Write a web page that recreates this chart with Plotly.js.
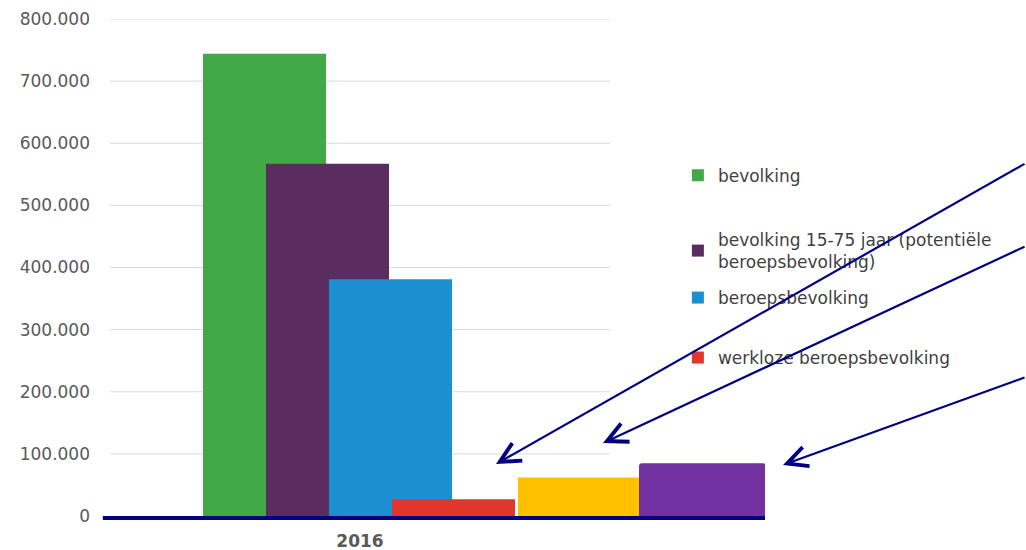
<!DOCTYPE html>
<html>
<head>
<meta charset="utf-8">
<script src="https://cdn.plot.ly/plotly-3.0.1.min.js"></script>
<style>
  html, body { margin: 0; padding: 0; background: #ffffff; }
  #chart { width: 1026px; height: 550px; }
</style>
</head>
<body>
<div id="chart"></div>
<script>
// ---- data ----
const CATEGORIES = ['2016'];
const SERIES_NAMES = [
  'bevolking',
  'bevolking 15-75 jaar (potentiële<br>beroepsbevolking)',
  'beroepsbevolking',
  'werkloze beroepsbevolking'
];
const BEVOLKING = [744000];
const BEVOLKING_15_75 = [567000];
const BEROEPSBEVOLKING = [381000];
const WERKLOZE = [27000];
const EXTRA_YELLOW = [62000];
const EXTRA_PURPLE = [85000];
const Y_TICKS = [0, 100000, 200000, 300000, 400000, 500000, 600000, 700000, 800000];

// ---- styles ----
const FONT = 'DejaVu Sans, Verdana, sans-serif';
const COLORS = ['#42A947', '#5B2C5F', '#1B8FD0', '#E1362C', '#FFC000', '#7131A1'];
const NAVY = '#000080';
const BAR_W = 0.246;

function bar(name, vals, color, offset, width, legend, show) {
  return {
    type: 'bar', name: name, x: CATEGORIES, y: vals,
    offset: offset, width: width,
    marker: { color: color, line: { width: 0 } },
    legend: legend, showlegend: show, hoverinfo: 'skip'
  };
}

const traces = [
  bar(SERIES_NAMES[0], BEVOLKING, COLORS[0], -0.314, BAR_W, 'legend', true),
  bar(SERIES_NAMES[1], BEVOLKING_15_75, COLORS[1], -0.188, BAR_W, 'legend2', true),
  bar(SERIES_NAMES[2], BEROEPSBEVOLKING, COLORS[2], -0.062, BAR_W, 'legend3', true),
  bar(SERIES_NAMES[3], WERKLOZE, COLORS[3], 0.064, BAR_W, 'legend4', true),
  bar('', EXTRA_YELLOW, COLORS[4], 0.316, BAR_W, 'legend', false),
  bar('', EXTRA_PURPLE, COLORS[5], 0.558, 0.254, 'legend', false)
];
traces[5].marker.cornerradius = 3;

const legendFont = { family: FONT, size: 17, color: '#3F3F3F' };
function leg(y) {
  return { x: 0.867, y: y, xanchor: 'left', yanchor: 'middle', font: legendFont,
           bgcolor: 'rgba(0,0,0,0)', borderwidth: 0 };
}

const gridShapes = Y_TICKS.filter(v => v > 0).map(v => ({
  type: 'line', xref: 'paper', x0: 0, x1: 0.7634, yref: 'y', y0: v, y1: v,
  layer: 'below', line: { color: '#D9D9D9', width: 1 }
}));
// short extension of the navy base line to the left of the plot area
gridShapes.push({
  type: 'line', xref: 'paper', x0: -0.011, x1: 0.002, yref: 'paper', y0: -0.004, y1: -0.004,
  layer: 'above', line: { color: NAVY, width: 4 }
});

function arrow(x, y, ax, ay) {
  return {
    xref: 'paper', yref: 'paper', x: x, y: y, ax: ax, ay: ay,
    axref: 'pixel', ayref: 'pixel', text: '', showarrow: true,
    arrowhead: 5, arrowsize: 1.8, arrowwidth: 2.2, arrowcolor: NAVY, standoff: 0
  };
}

const layout = {
  width: 1026, height: 550,
  paper_bgcolor: '#ffffff', plot_bgcolor: '#ffffff',
  margin: { l: 110, r: 261, t: 19, b: 34, autoexpand: false },
  separators: ',.',
  barmode: 'overlay',
  showlegend: true,
  xaxis: {
    type: 'category', range: [-0.5, 0.81], fixedrange: true,
    showgrid: false, zeroline: false,
    showline: true, linecolor: NAVY, linewidth: 4,
    ticks: '', ticklabelstandoff: 7,
    tickfont: { family: FONT, size: 17, color: '#595959', weight: 'bold' }
  },
  yaxis: {
    range: [0, 800000], tickvals: Y_TICKS, tickformat: ',',
    showgrid: false, zeroline: false, showline: false, ticks: '',
    ticklabelstandoff: 19,
    tickfont: { family: FONT, size: 17, color: '#595959' }
  },
  shapes: gridShapes,
  legend: leg(0.6847),
  legend2: leg(0.5332),
  legend3: leg(0.4386),
  legend4: leg(0.3179),
  annotations: [
    arrow(0.5893, 0.1046, 534, -301),
    arrow(0.7527, 0.1469, 427, -197),
    arrow(1.0275, 0.1026, 247, -88)
  ]
};

Plotly.newPlot('chart', traces, layout, { displayModeBar: false, staticPlot: true });
</script>
</body>
</html>
